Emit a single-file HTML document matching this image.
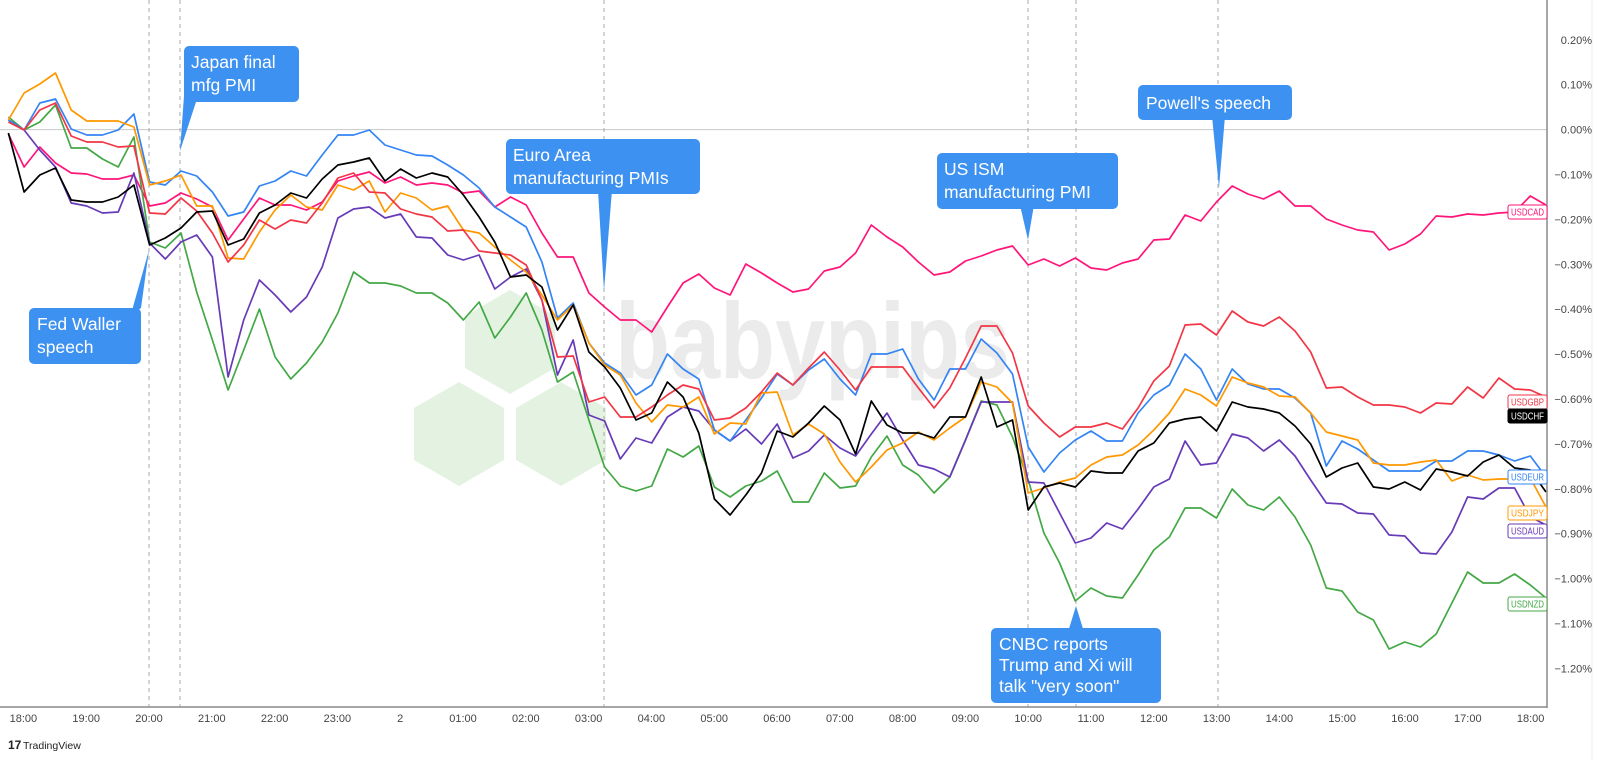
<!DOCTYPE html>
<html><head><meta charset="utf-8"><style>
html,body{margin:0;padding:0;background:#fff;}
body{width:1600px;height:759px;overflow:hidden;font-family:"Liberation Sans",sans-serif;}
svg{display:block}
</style></head><body>
<svg id="c" width="1600" height="759" xmlns="http://www.w3.org/2000/svg">
<g fill="#e4f3e1">
<polygon points="510,290 555,316 555,368 510,394 465,368 465,316"/>
<polygon points="459,382 504,408 504,460 459,486 414,460 414,408"/>
<polygon points="561,382 606,408 606,460 561,486 516,460 516,408"/>
</g>
<text x="615" y="378" font-size="108" font-weight="bold" fill="#ebebeb" textLength="395" lengthAdjust="spacingAndGlyphs" font-family="Liberation Sans, sans-serif">babypips</text>
<line x1="0" y1="129.6" x2="1547" y2="129.6" stroke="#c8c8c8" stroke-width="1"/>
<g stroke="#a8a8a8" stroke-width="1" stroke-dasharray="4,4">
<line x1="149" y1="0" x2="149" y2="707"/>
<line x1="180" y1="0" x2="180" y2="707"/>
<line x1="604" y1="0" x2="604" y2="707"/>
<line x1="1028" y1="0" x2="1028" y2="707"/>
<line x1="1076" y1="0" x2="1076" y2="707"/>
<line x1="1218" y1="0" x2="1218" y2="707"/>
</g>
<g id="series" fill="none" stroke-width="1.7" stroke-linejoin="round"></g>
<line x1="1547" y1="0" x2="1547" y2="708" stroke="#8a8a8a" stroke-width="1.5"/>
<line x1="0" y1="707" x2="1547" y2="707" stroke="#8a8a8a" stroke-width="1.5"/>
<line x1="1592" y1="0" x2="1592" y2="759" stroke="#eeeeee" stroke-width="1"/>
<g id="ylab" font-size="11" fill="#444" text-anchor="end"></g>
<g id="xlab" font-size="11" fill="#444" text-anchor="middle"></g>
<g fill="#3d91f0">
<rect x="184" y="46" width="115" height="56" rx="5"/>
<polygon points="184,96 196,102 180,151"/>
<rect x="29" y="308" width="112" height="56" rx="5"/>
<polygon points="131,314 141,308 149,250"/>
<rect x="506" y="139" width="194" height="55" rx="5"/>
<polygon points="598,190 612,190 604,291"/>
<rect x="937" y="153" width="181" height="56" rx="5"/>
<polygon points="1020,205 1034,205 1028,240"/>
<rect x="1138" y="85" width="154" height="35" rx="5"/>
<polygon points="1212,116 1225,116 1219,188"/>
<rect x="991" y="628" width="170" height="75" rx="5"/>
<polygon points="1068,632 1084,632 1076,606"/>
</g>
<g fill="#fff" font-size="17.5">
<text x="191" y="68">Japan final</text><text x="191" y="91">mfg PMI</text>
<text x="37" y="330">Fed Waller</text><text x="37" y="353">speech</text>
<text x="513" y="161">Euro Area</text><text x="513" y="184">manufacturing PMIs</text>
<text x="944" y="175">US ISM</text><text x="944" y="198">manufacturing PMI</text>
<text x="1146" y="109">Powell's speech</text>
<text x="999" y="650">CNBC reports</text><text x="999" y="671">Trump and Xi will</text><text x="999" y="692">talk "very soon"</text>
</g>
<g id="tags" font-size="10" text-anchor="start"></g>
<text x="8" y="749" font-size="12" font-weight="bold" fill="#222">17</text>
<text x="23" y="749" font-size="10.5" fill="#222">TradingView</text>
</svg>
<script>
var S={
cad:["#ff1579",[134,167,147,163,173,174,179,179,175,206,203,193,199,207,240,219,198,205,205,210,202,181,176,172,183,177,185,183,185,193,191,207,197,205,233,257,257,293,307,320,320,332,307,283,274,288,295,264,273,283,292,289,271,267,253,225,237,247,262,275,272,261,256,250,246,265,259,266,258,268,270,263,259,240,239,215,221,202,186,194,199,191,206,206,219,225,230,232,250,244,234,216,217,214,215,213,212,196,205]],
nzd:["#43a845",[117,130,122,105,148,148,159,167,137,242,248,233,292,340,390,350,309,357,379,363,342,313,272,283,283,286,293,293,303,320,302,338,317,293,330,382,372,420,467,486,491,486,449,457,446,487,497,486,481,471,502,502,473,488,486,457,436,465,475,493,477,440,401,405,437,480,533,563,601,588,596,598,575,550,537,508,508,518,489,505,510,497,517,545,588,591,612,620,649,642,647,634,603,572,583,583,574,585,598]],
aud:["#673ab7",[120,130,150,167,203,206,213,212,173,243,259,242,235,257,377,320,280,295,312,297,267,218,209,207,218,214,237,238,255,260,255,289,277,269,300,375,340,415,421,459,438,443,417,407,411,430,441,429,444,424,458,451,435,448,456,434,413,440,465,469,477,440,402,402,402,482,483,513,543,538,523,529,509,487,479,441,465,463,434,438,451,440,456,480,503,504,513,514,535,536,553,554,532,497,499,488,488,517,525]],
eur:["#3384f4",[120,130,103,99,129,135,135,130,114,182,185,171,176,192,216,212,186,181,171,176,155,135,135,130,145,150,155,156,165,175,188,207,217,227,262,318,303,343,363,373,395,385,354,369,379,430,441,420,398,374,385,370,359,379,395,354,354,349,379,400,369,369,339,353,374,447,472,453,440,431,441,441,413,395,385,354,369,400,369,384,389,389,398,413,466,441,449,460,471,471,471,461,461,451,451,455,461,456,477]],
jpy:["#ff9800",[120,93,84,73,110,121,121,121,127,185,181,175,206,206,258,259,232,210,195,207,210,185,190,181,212,193,198,210,206,230,233,247,260,272,295,320,305,343,365,375,403,422,405,407,397,434,423,424,393,392,435,424,434,462,482,467,450,443,432,440,428,417,382,387,403,493,488,482,478,465,457,455,445,430,413,389,395,406,377,383,387,396,397,413,432,436,440,463,465,465,462,460,481,475,480,479,479,478,507]],
gbp:["#f23645",[122,130,110,103,136,142,142,147,146,213,214,198,211,233,262,245,220,229,220,223,203,178,173,192,193,209,214,217,231,230,251,253,255,265,300,357,356,402,397,417,417,407,395,385,389,420,418,408,392,373,385,368,352,370,390,367,367,367,388,408,388,358,326,326,353,406,423,437,427,427,423,429,408,381,366,325,324,335,311,322,326,317,331,352,388,387,397,405,405,407,413,403,404,387,398,378,389,390,397]],
chf:["#000000",[133,192,175,168,200,202,202,197,185,245,238,228,212,211,245,239,213,205,193,198,179,165,162,158,181,169,178,173,177,195,217,242,277,275,287,330,305,352,367,388,420,413,382,397,433,499,515,495,473,431,437,423,406,420,454,401,425,433,433,438,417,417,377,427,420,510,487,483,487,471,473,473,451,443,423,419,417,431,402,407,409,413,426,444,477,468,463,487,489,482,490,469,472,476,462,455,468,470,492]]
};
var NS="http://www.w3.org/2000/svg",g=document.getElementById("series");
for(var k in S){var a=S[k][1],p=[];for(var i=0;i<a.length;i++){var x=8.4+i*(1546-8.4)/(a.length-1);p.push(x.toFixed(1)+","+a[i]);}
var pl=document.createElementNS(NS,"polyline");pl.setAttribute("points",p.join(" "));pl.setAttribute("stroke",S[k][0]);g.appendChild(pl);}
var yl=document.getElementById("ylab");
for(var v=2;v>=-12;v--){var y=129.6-v*44.9;var t=document.createElementNS(NS,"text");t.setAttribute("x","1592");t.setAttribute("y",(y+4).toFixed(1));
var s=(Math.abs(v)/10).toFixed(2)+"%";t.textContent=(v<0?"\u2212":"")+s;yl.appendChild(t);}
var xl=document.getElementById("xlab");
var hrs=["18:00","19:00","20:00","21:00","22:00","23:00","2","01:00","02:00","03:00","04:00","05:00","06:00","07:00","08:00","09:00","10:00","11:00","12:00","13:00","14:00","15:00","16:00","17:00","18:00"];
for(var j=0;j<hrs.length;j++){var t=document.createElementNS(NS,"text");t.setAttribute("x",(23.4+62.8*j).toFixed(1));t.setAttribute("y","722");t.textContent=hrs[j];xl.appendChild(t);}
var tags=[["USDCAD",212,"#ff1579",0],["USDGBP",402,"#f23645",0],["USDCHF",416,"#000",1],["USDEUR",477,"#3384f4",0],["USDJPY",513,"#ff9800",0],["USDAUD",531,"#673ab7",0],["USDNZD",604,"#43a845",0]];
var tg=document.getElementById("tags");
tags.forEach(function(d){var r=document.createElementNS(NS,"rect");r.setAttribute("x","1508");r.setAttribute("y",d[1]-7);r.setAttribute("width","39");r.setAttribute("height","14");r.setAttribute("rx","2");
r.setAttribute("fill",d[3]?"#000":"#fff");r.setAttribute("stroke",d[2]);r.setAttribute("stroke-width","1");tg.appendChild(r);
var t=document.createElementNS(NS,"text");t.setAttribute("x","1511");t.setAttribute("y",d[1]+3.5);t.setAttribute("fill",d[3]?"#fff":d[2]);
t.setAttribute("textLength","33");t.setAttribute("lengthAdjust","spacingAndGlyphs");t.textContent=d[0];tg.appendChild(t);});
</script>
</body></html>
